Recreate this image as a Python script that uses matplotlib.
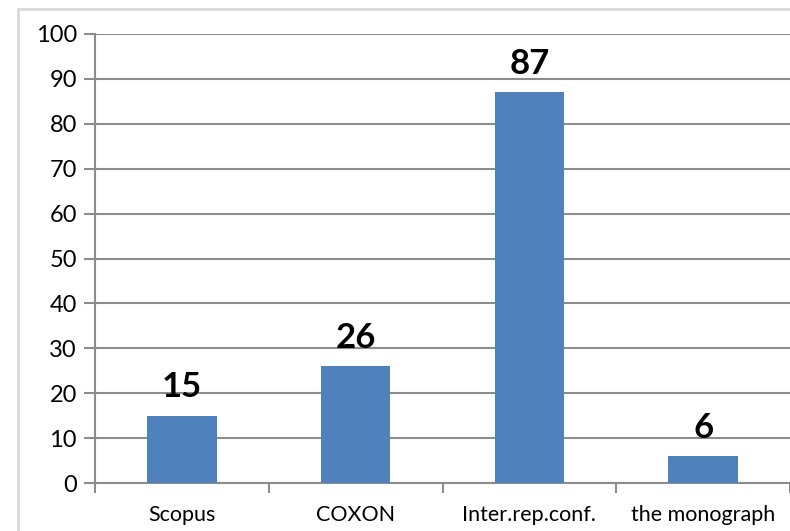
import matplotlib
matplotlib.use("Agg")
import matplotlib.pyplot as plt
from matplotlib.patches import Rectangle

# Data
categories = ["Scopus", "COXON", "Inter.rep.conf.", "the monograph"]
values = [15, 26, 87, 6]
yticks = list(range(0, 101, 10))

plt.rcParams["font.family"] = ["Lato", "DejaVu Sans"]

fig = plt.figure(figsize=(7.9, 5.31), dpi=100)

# Light chart border
fig.patches.append(Rectangle((18 / 790, -0.1), 2, 1 - 9 / 531 + 0.1,
                             transform=fig.transFigure, fill=False,
                             edgecolor="#d9d9d9", linewidth=2))

ax = fig.add_axes([95 / 790, 1 - 483 / 531, 1 - 95 / 790, (483 - 34) / 531])

grid_col = "#8c8c8c"
x = list(range(len(categories)))
ax.bar(x, values, width=0.4, color="#4f81bd", zorder=3)

for xi, v in zip(x, values):
    ax.annotate(str(v), (xi, v), xytext=(0, 9), textcoords="offset points",
                ha="center", va="bottom", fontsize=25, fontweight="bold")

ax.set_xlim(-0.5, 3.5)
ax.set_ylim(0, 100)
ax.set_yticks(yticks)
ax.yaxis.grid(True, color=grid_col, linewidth=1.5, zorder=0)
ax.set_axisbelow(True)

ax.set_xticks(x)
ax.set_xticklabels(categories, fontsize=15.5)
ax.set_xticks([-0.5, 0.5, 1.5, 2.5, 3.5], minor=True)
ax.tick_params(axis="x", which="major", length=0, pad=16)
ax.tick_params(axis="x", which="minor", length=7.5, width=1.5, color=grid_col)
ax.tick_params(axis="y", length=8, width=1.5, color=grid_col, labelsize=17, pad=5)

for s in ["top", "right"]:
    ax.spines[s].set_visible(False)
for s in ["left", "bottom"]:
    ax.spines[s].set_color(grid_col)
    ax.spines[s].set_linewidth(1.5)

fig.savefig("out.png", dpi=100)
